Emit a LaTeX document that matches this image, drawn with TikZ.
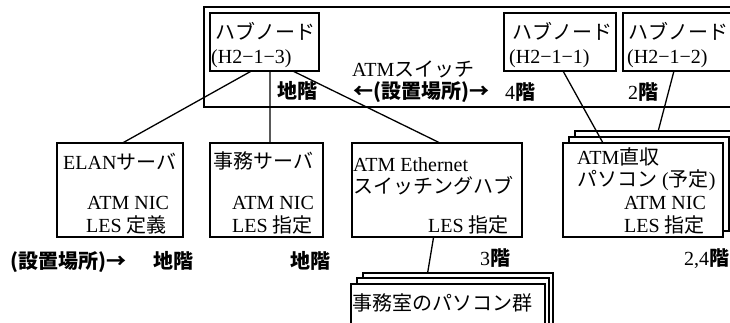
\documentclass[tikz,border=0pt]{standalone}
\usepackage{fontspec}
\setmainfont{Liberation Serif}
\newfontfamily\jp{Noto Sans CJK JP}
\usetikzlibrary{calc}
\newcommand{\J}[1]{{\jp #1}}
\newcommand{\JB}[1]{{\jp\bfseries #1}}
\begin{document}
\begin{tikzpicture}[x=1pt,y=-1pt,
  box/.style={draw,line width=1.3pt,fill=white,outer sep=0pt,inner sep=0pt,anchor=north west},
  lbl/.style={anchor=base west,inner sep=0pt,font=\fontsize{20}{20}\selectfont},
  conn/.style={line width=1.3pt}]
\useasboundingbox (0,0) rectangle (730,322);
\clip (0,0) rectangle (730,322);
% ATM switch
\node[box,minimum width=540,minimum height=100] (sw) at (204,7) {};
\node[box,minimum width=109,minimum height=58] (h213) at (210,13) {};
\node[box,minimum width=112,minimum height=58] (h211) at (504,13) {};
\node[box,minimum width=112,minimum height=58] (h212) at (623,13) {};
% lower boxes
\node[box,minimum width=126,minimum height=94] (elan) at (57,143) {};
\node[box,minimum width=113,minimum height=94] (biz) at (210,143) {};
\node[box,minimum width=170,minimum height=94] (eth) at (352,143) {};
% stacked ATM direct PCs
\node[box,minimum width=160,minimum height=94] (dir3) at (575,131) {};
\node[box,minimum width=160,minimum height=94] (dir2) at (569,137) {};
\node[box,minimum width=160,minimum height=94] (dir1) at (563,143) {};
% stacked office PCs
\node[box,minimum width=190,minimum height=60] (pc3) at (363,273) {};
\node[box,minimum width=192,minimum height=60] (pc2) at (357,278) {};
\node[box,minimum width=194,minimum height=60] (pc1) at (351,284) {};
% connectors
\draw[conn] ($(h213.south west)!0.38!(h213.south east)$) -- ($(elan.north west)!0.52!(elan.north east)$);
\draw[conn] ($(h213.south west)!0.55!(h213.south east)$) -- ($(biz.north west)!0.531!(biz.north east)$);
\draw[conn] ($(h213.south west)!0.76!(h213.south east)$) -- ($(eth.north west)!0.518!(eth.north east)$);
\draw[conn] ($(h211.south west)!0.527!(h211.south east)$) -- ($(dir1.north west)!0.25!(dir1.north east)$);
\draw[conn] ($(h212.south west)!0.455!(h212.south east)$) -- ($(dir3.north west)!0.52!(dir3.north east)$);
\draw[conn] ($(eth.south west)!0.48!(eth.south east)$) -- ($(pc3.north west)!0.34!(pc3.north east)$);
% texts in switch
\node[lbl] (t1) at (215,39) {\J{ハブノード}};
\node[lbl] (t2) at (211,63) {(H2−1−3)};
\node[lbl] (t3) at (352,76) {ATM\J{スイッチ}};
\node[lbl] (t4) at (277,98) {\JB{地階}};
\node[lbl] (t5) at (353,98) {\JB{←(設置場所)→}};
\node[lbl] (t6) at (505,99) {4\JB{階}};
\node[lbl] (t7) at (628,99) {2\JB{階}};
\node[lbl] (t8) at (512,39) {\J{ハブノード}};
\node[lbl] (t9) at (509,63) {(H2−1−1)};
\node[lbl] (t10) at (628,39) {\J{ハブノード}};
\node[lbl] (t11) at (627,63) {(H2−1−2)};
% ELAN
\node[lbl] (e1) at (63,169) {ELAN\J{サーバ}};
\node[lbl] (e2) at (87,209) {ATM NIC};
\node[lbl] (e3) at (86,232) {LES \J{定義}};
% business server
\node[lbl] (b1) at (213,168) {\J{事務サーバ}};
\node[lbl] (b2) at (232,209) {ATM NIC};
\node[lbl] (b3) at (232,232) {LES \J{指定}};
% ethernet switch
\node[lbl] (s1) at (353,171) {ATM Ethernet};
\node[lbl] (s2) at (353,193) {\J{スイッチングハブ}};
\node[lbl] (s3) at (428,232) {LES \J{指定}};
% ATM direct
\node[lbl] (d1) at (577,164) {ATM\J{直収}};
\node[lbl] (d2) at (577,186) {\J{パソコン}~(\J{予定})};
\node[lbl] (d3) at (624,209) {ATM NIC};
\node[lbl] (d4) at (624,232) {LES \J{指定}};
% floors
\node[lbl] (f1) at (10,268) {\JB{(設置場所)→}};
\node[lbl] (f2) at (153,268) {\JB{地階}};
\node[lbl] (f3) at (290,268) {\JB{地階}};
\node[lbl] (f4) at (480,265) {3\JB{階}};
\node[lbl] (f5) at (684,265) {2,4\JB{階}};
% office PCs
\node[lbl] (p1) at (352,310) {\J{事務室のパソコン群}};
\end{tikzpicture}
\end{document}
